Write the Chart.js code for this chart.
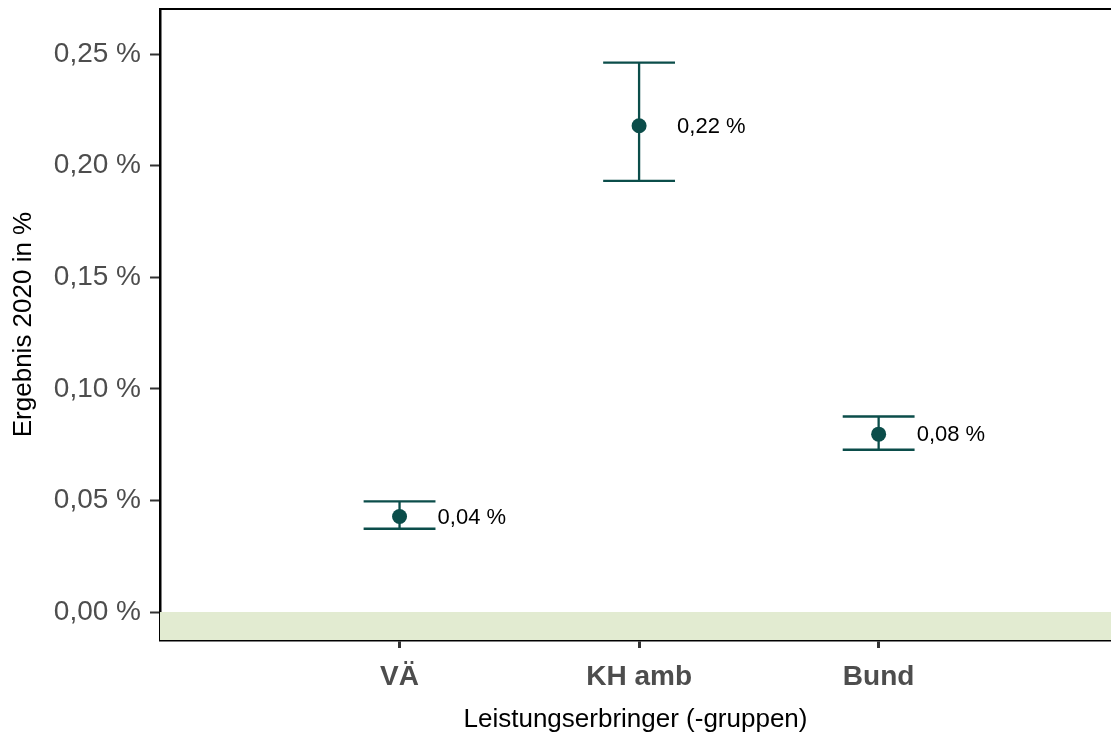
<!DOCTYPE html>
<html>
<head>
<meta charset="utf-8">
<script src="https://cdn.jsdelivr.net/npm/chart.js@4/dist/chart.umd.min.js"></script>
<style>
  html, body { margin: 0; padding: 0; background: #fff; overflow: hidden; }
  canvas { display: block; }
</style>
</head>
<body>
<canvas id="myCanvas" width="1111" height="740"></canvas>
<script>
// values in percent
const categories = ["VÄ", "KH amb", "Bund"];
const values = [0.0428, 0.2179, 0.0797];
const lower = [0.0373, 0.1932, 0.0727];
const upper = [0.0496, 0.2462, 0.0876];
const valueLabels = ["0,04 %", "0,22 %", "0,08 %"];
const yTicks = [0, 0.05, 0.10, 0.15, 0.20, 0.25];

const teal = "#0b4d4a";
const fontFam = "'Liberation Sans', Arial, sans-serif";

// green band below 0, top frame line
const backdrop = {
    id: "backdrop",
    beforeDatasetsDraw(chart) {
        const { ctx, chartArea, scales } = chart;
        const y0 = scales.y.getPixelForValue(0);
        ctx.save();
        ctx.fillStyle = "#e2ebd1";
        ctx.fillRect(chartArea.left, y0, chartArea.right - chartArea.left, chartArea.bottom - y0);
        ctx.restore();
    },
    afterDraw(chart) {
        const { ctx, chartArea } = chart;
        ctx.save();
        ctx.strokeStyle = "#000";
        ctx.lineWidth = 2;
        ctx.beginPath();
        ctx.moveTo(chartArea.left - 1, chartArea.top);
        ctx.lineTo(chartArea.right, chartArea.top);
        ctx.stroke();
        ctx.restore();
    },
};

// error bars + value labels
const errorBars = {
    id: "errorBars",
    beforeDatasetsDraw(chart) {
        const { ctx, scales } = chart;
        const capHalf = 0.15;
        ctx.save();
        ctx.strokeStyle = teal;
        ctx.lineWidth = 2.3;
        categories.forEach((c, i) => {
            const x = scales.x.getPixelForValue(i + 1);
            const xl = scales.x.getPixelForValue(i + 1 - capHalf);
            const xr = scales.x.getPixelForValue(i + 1 + capHalf);
            const yl = scales.y.getPixelForValue(lower[i]);
            const yu = scales.y.getPixelForValue(upper[i]);
            ctx.beginPath();
            ctx.moveTo(x, yl); ctx.lineTo(x, yu);
            ctx.moveTo(xl, yl); ctx.lineTo(xr, yl);
            ctx.moveTo(xl, yu); ctx.lineTo(xr, yu);
            ctx.stroke();
        });
        ctx.restore();
    },
    afterDatasetsDraw(chart) {
        const { ctx, scales } = chart;
        ctx.save();
        ctx.fillStyle = "#000";
        ctx.font = "22px " + fontFam;
        ctx.textAlign = "left";
        ctx.textBaseline = "middle";
        categories.forEach((c, i) => {
            const x = scales.x.getPixelForValue(i + 1);
            const y = scales.y.getPixelForValue(values[i]);
            ctx.fillText(valueLabels[i], x + 38, y + 1);
        });
        ctx.restore();
    },
};

new Chart(document.getElementById("myCanvas"), {
    type: "scatter",
    data: {
        datasets: [{
            data: values.map((v, i) => ({ x: i + 1, y: v })),
            backgroundColor: teal,
            borderColor: teal,
            pointRadius: 7.5,
            pointHoverRadius: 7.5,
            borderWidth: 0,
        }],
    },
    options: {
        responsive: false,
        devicePixelRatio: 1,
        animation: false,
        layout: { autoPadding: false, padding: { top: 9, left: 0, right: 0, bottom: 0 } },
        plugins: {
            legend: { display: false },
            tooltip: { enabled: false },
        },
        scales: {
            x: {
                type: "linear",
                min: 0,
                max: 3.97,
                afterBuildTicks: (scale) => {
                    scale.ticks = categories.map((c, i) => ({ value: i + 1 }));
                },
                afterFit: (scale) => {
                    scale.height = 100;
                    scale.paddingLeft = 0;
                    scale.paddingRight = 0;
                },
                grid: {
                    drawOnChartArea: false,
                    drawTicks: true,
                    tickLength: 8,
                    tickWidth: 3,
                    tickColor: "#333333",
                },
                border: { display: true, color: "#000", width: 2.5 },
                ticks: {
                    color: "#4d4d4d",
                    padding: 12,
                    maxRotation: 0,
                    font: { family: fontFam, size: 28, weight: "bold" },
                    callback: (v, idx) => categories[idx],
                },
                title: {
                    display: true,
                    text: "Leistungserbringer (-gruppen)",
                    color: "#000",
                    padding: { top: 0, bottom: 5 },
                    font: { family: fontFam, size: 26 },
                },
            },
            y: {
                min: -0.01254,
                max: 0.2702,
                afterBuildTicks: (scale) => {
                    scale.ticks = yTicks.map((v) => ({ value: v }));
                },
                afterFit: (scale) => {
                    scale.width = 160;
                    scale.paddingTop = 0;
                    scale.paddingBottom = 0;
                },
                grid: {
                    drawOnChartArea: false,
                    drawTicks: true,
                    tickLength: 10,
                    tickWidth: 2,
                    tickColor: "#333333",
                },
                border: { display: true, color: "#000", width: 2.5 },
                ticks: {
                    color: "#4d4d4d",
                    padding: 9,
                    font: { family: fontFam, size: 28 },
                    callback: (v) => v.toFixed(2).replace(".", ",") + " %",
                },
                title: {
                    display: true,
                    text: "Ergebnis 2020 in %",
                    color: "#000",
                    padding: { top: 8, bottom: 0 },
                    font: { family: fontFam, size: 26 },
                },
            },
        },
    },
    plugins: [backdrop, errorBars],
});
</script>
</body>
</html>
